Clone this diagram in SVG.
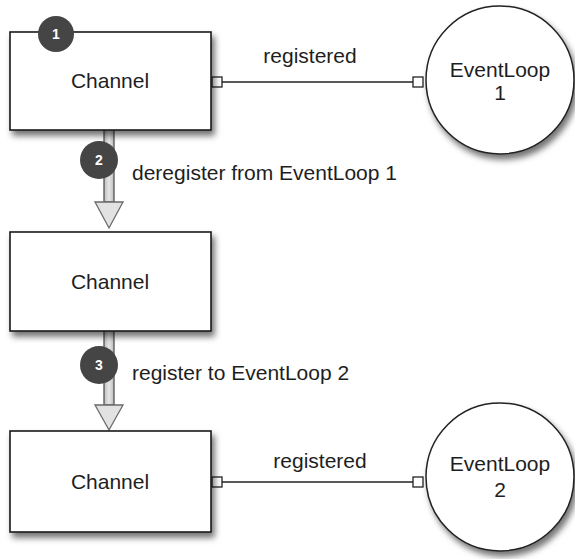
<svg xmlns="http://www.w3.org/2000/svg" width="575" height="559" viewBox="0 0 575 559">
<style>
  text { font-family: "Liberation Sans", Arial, sans-serif; fill: #1e1e1e; }
  .lbl { font-size: 21px; }
  .mid { text-anchor: middle; }
  .box { fill: #ffffff; stroke: #1a1a1a; stroke-width: 1.6; filter: url(#shadow); }
  .loop { fill: #ffffff; stroke: #222222; stroke-width: 1.5; filter: url(#shadow); }
  .port { fill: #ffffff; stroke: #222222; stroke-width: 1.3; }
  .wire { stroke: #222222; stroke-width: 1.5; fill: none; }
  .shaft { fill: url(#shaftGrad); stroke: #555555; stroke-width: 1.3; }
  .head { fill: #e2e2e2; stroke: #6a6a6a; stroke-width: 1.3; }
  .badge { fill: #454545; }
  .badge-t { font-size: 14px; font-weight: bold; fill: #ffffff; text-anchor: middle; }
</style>
<defs>
  <filter id="shadow" x="-20%" y="-20%" width="150%" height="150%">
    <feDropShadow dx="3" dy="5" stdDeviation="3" flood-color="#000000" flood-opacity="0.55"/>
  </filter>
  <linearGradient id="shaftGrad" x1="0" y1="0" x2="1" y2="0">
    <stop offset="0" stop-color="#bdbdbd"/>
    <stop offset="0.5" stop-color="#e6e6e6"/>
    <stop offset="1" stop-color="#bdbdbd"/>
  </linearGradient>
</defs>

<g id="connectors">
  <g id="registered-1">
    <line class="wire" x1="222" y1="82" x2="413" y2="82"/>
    <rect class="port" x="212" y="77" width="10" height="10"/>
    <rect class="port" x="413" y="77" width="10" height="10"/>
    <text class="lbl mid" x="310" y="63">registered</text>
  </g>
  <g id="registered-2">
    <line class="wire" x1="222" y1="482" x2="413" y2="482"/>
    <rect class="port" x="212" y="477" width="10" height="10"/>
    <rect class="port" x="413" y="477" width="10" height="10"/>
    <text class="lbl mid" x="320" y="468">registered</text>
  </g>
  <g id="step-2">
    <rect class="shaft" x="104" y="128" width="10" height="74"/>
    <polygon class="head" points="95,202 123,202 109,228"/>
    <text class="lbl" x="132" y="180">deregister from EventLoop 1</text>
  </g>
  <g id="step-3">
    <rect class="shaft" x="104" y="329" width="10" height="76"/>
    <polygon class="head" points="95,405 123,405 109,430"/>
    <text class="lbl" x="132" y="380">register to EventLoop 2</text>
  </g>
</g>

<g id="channel-1">
  <rect class="box" x="10" y="32" width="201" height="98"/>
  <text class="lbl mid" x="110" y="88">Channel</text>
</g>
<g id="channel-2">
  <rect class="box" x="10" y="232" width="201" height="99"/>
  <text class="lbl mid" x="110" y="289">Channel</text>
</g>
<g id="channel-3">
  <rect class="box" x="10" y="431" width="201" height="101"/>
  <text class="lbl mid" x="110" y="489">Channel</text>
</g>

<g id="eventloop-1">
  <circle class="loop" cx="500" cy="80" r="74"/>
  <text class="lbl mid" x="500" y="77">EventLoop</text>
  <text class="lbl mid" x="500" y="100">1</text>
</g>
<g id="eventloop-2">
  <circle class="loop" cx="500" cy="477" r="74"/>
  <text class="lbl mid" x="500" y="471">EventLoop</text>
  <text class="lbl mid" x="500" y="497">2</text>
</g>

<g id="badge-1">
  <circle class="badge" cx="56" cy="34" r="18"/>
  <text class="badge-t" x="56" y="39">1</text>
</g>
<g id="badge-2">
  <circle class="badge" cx="99" cy="160" r="19"/>
  <text class="badge-t" x="99" y="165">2</text>
</g>
<g id="badge-3">
  <circle class="badge" cx="99" cy="365" r="19"/>
  <text class="badge-t" x="99" y="370">3</text>
</g>
</svg>
